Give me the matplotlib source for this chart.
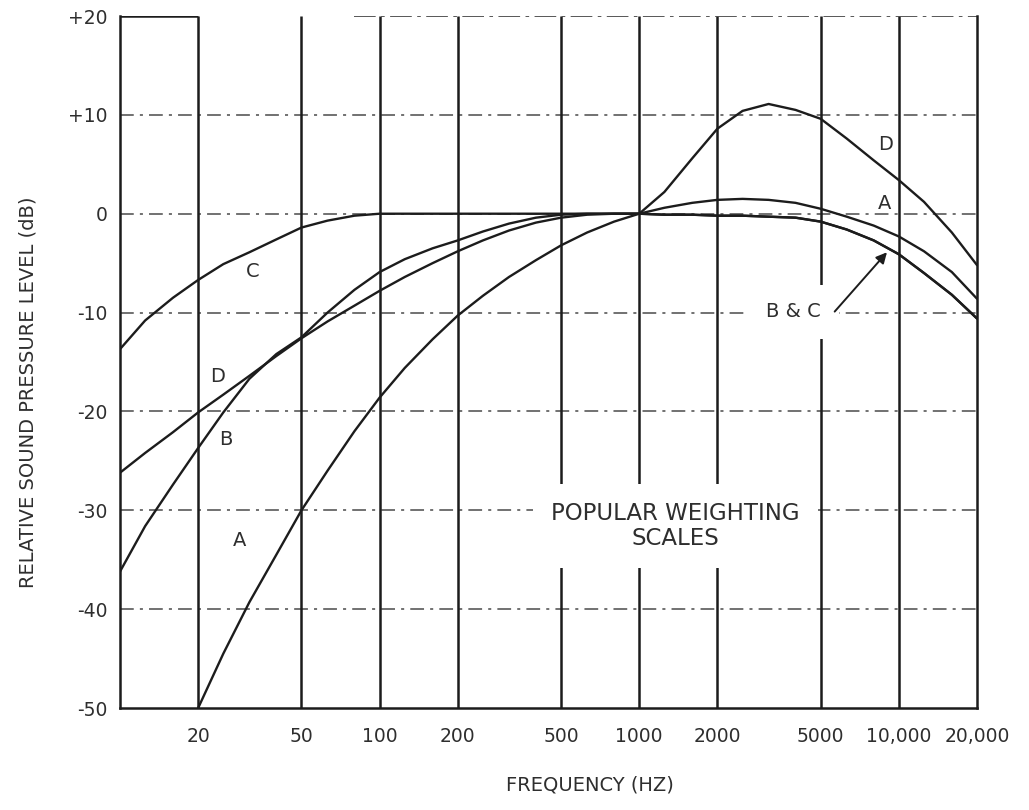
import matplotlib
matplotlib.use("Agg")
import matplotlib.pyplot as plt

# ---------------- data ----------------
freq = [10, 12.5, 16, 20, 25, 31.5, 40, 50, 63, 80, 100, 125, 160, 200, 250,
        315, 400, 500, 630, 800, 1000, 1250, 1600, 2000, 2500, 3150, 4000,
        5000, 6300, 8000, 10000, 12500, 16000, 20000]

freq_a = freq[3:]   # A curve starts at 20 Hz
a_db = [-50.0, -44.5, -39.3, -34.5, -30.0, -26.0, -22.0, -18.6, -15.6, -12.7,
        -10.3, -8.3, -6.4, -4.7, -3.2, -1.9, -0.8, 0.0, 0.6, 1.1, 1.4, 1.5,
        1.4, 1.1, 0.5, -0.3, -1.2, -2.3, -3.8, -5.9, -8.6]

b_db = [-36.2, -31.6, -27.4, -23.7, -20.1, -16.7, -14.2, -12.5, -10.0, -7.7,
        -5.9, -4.6, -3.5, -2.7, -1.8, -1.0, -0.4, -0.1, 0.0, 0.0, 0.0, -0.1,
        -0.1, -0.2, -0.2, -0.3, -0.4, -0.8, -1.6, -2.7, -4.1, -6.0, -8.2, -10.6]

c_db = [-13.7, -10.8, -8.5, -6.7, -5.1, -3.9, -2.6, -1.4, -0.7, -0.2, 0.0,
        0.0, 0.0, 0.0, 0.0, 0.0, 0.0, 0.0, 0.0, 0.0, 0.0, -0.1, -0.1, -0.2,
        -0.2, -0.3, -0.4, -0.8, -1.6, -2.7, -4.1, -6.0, -8.2, -10.6]

d_db = [-26.2, -24.2, -22.1, -20.1, -18.3, -16.4, -14.4, -12.6, -10.9, -9.3,
        -7.8, -6.4, -5.0, -3.8, -2.7, -1.7, -0.9, -0.4, -0.1, 0.0, 0.0, 2.2,
        5.6, 8.6, 10.4, 11.1, 10.5, 9.6, 7.6, 5.4, 3.4, 1.2, -1.9, -5.2]

x_ticks = [20, 50, 100, 200, 500, 1000, 2000, 5000, 10000, 20000]
x_tick_labels = ["20", "50", "100", "200", "500", "1000", "2000", "5000",
                 "10,000", "20,000"]
y_ticks = [20, 10, 0, -10, -20, -30, -40, -50]
y_tick_labels = ["+20", "+10", "0", "-10", "-20", "-30", "-40", "-50"]

# curve labels: (text, frequency, level)
curve_labels = [("C", 32.5, -5.8), ("D", 23.7, -16.5), ("B", 25.6, -22.8),
                ("A", 28.8, -33.1), ("D", 8900, 7.0), ("A", 8800, 1.0)]
bc_label = ("B & C", 3940, -9.9)
bc_arrow_tail = (5660, -9.9)
bc_arrow_head = (9000, -3.9)
box_text = ("POPULAR WEIGHTING\nSCALES", 1380, -31.6)

# ---------------- figure ----------------
ink = "#1c1c1c"
txt = "#2e2e2e"
grid_c = "#4a4a4a"

fig = plt.figure(figsize=(10.29, 8.10), dpi=100)
W, H = 1029, 810
ax = fig.add_axes([120 / W, 1 - 708 / H, 857 / W, 692 / H])
ax.set_xscale("log")
ax.set_xlim(freq[0], x_ticks[-1])
ax.set_ylim(y_ticks[-1], y_ticks[0])

# vertical solid grid lines
ax.vlines(x_ticks[:-1], y_ticks[-1], y_ticks[0], color=ink, lw=1.8, zorder=2)
# horizontal dash-dot grid lines
for yv in y_ticks[1:-1]:
    ax.axhline(yv, color=grid_c, lw=1.1, ls=(0, (9, 4, 2, 4)), zorder=1)
# top edge: solid piece at left, dashed remainder
ax.hlines(y_ticks[0], freq[0], x_ticks[0], color=ink, lw=1.8, zorder=2)
ax.hlines(y_ticks[0], 80, x_ticks[-1], color=grid_c, lw=1.3,
          ls=(0, (12, 3, 2, 3)), zorder=2)

for s in ("left", "right", "bottom"):
    ax.spines[s].set_color(ink)
    ax.spines[s].set_linewidth(1.8)
ax.spines["top"].set_visible(False)

# curves
for x, y in ((freq_a, a_db), (freq, b_db), (freq, c_db), (freq, d_db)):
    ax.plot(x, y, color=ink, lw=1.7, zorder=3, solid_capstyle="round")

# ticks
ax.set_xticks(x_ticks)
ax.set_xticklabels(x_tick_labels)
ax.xaxis.set_minor_locator(matplotlib.ticker.NullLocator())
ax.set_yticks(y_ticks)
ax.set_yticklabels(y_tick_labels)
ax.tick_params(axis="x", length=0, pad=14, labelsize=13.5, colors=txt)
ax.tick_params(axis="y", length=0, pad=9, labelsize=13.5, colors=txt)

# labels on curves
for t, fx, fy in curve_labels:
    ax.text(fx, fy, t, ha="center", va="center", fontsize=14, color=txt,
            zorder=5)

ax.text(bc_label[1], bc_label[2], bc_label[0], ha="center", va="center",
        fontsize=14, color=txt, zorder=4,
        bbox=dict(boxstyle="square,pad=0.9", fc="white", ec="none"))
ax.annotate("", xy=bc_arrow_head, xytext=bc_arrow_tail, zorder=6,
            arrowprops=dict(arrowstyle="-|>", color=ink, lw=1.4,
                            mutation_scale=16, shrinkA=0, shrinkB=0))

ax.text(box_text[1], box_text[2], box_text[0], ha="center", va="center",
        fontsize=16.5, color=txt, linespacing=1.1, zorder=4,
        bbox=dict(boxstyle="square,pad=0.8", fc="white", ec="none"))

# axis titles
fig.text(28 / W, 1 - 392 / H, "RELATIVE SOUND PRESSURE LEVEL (dB)",
         rotation=90, ha="center", va="center", fontsize=14, color=txt)
fig.text(590 / W, 1 - 785 / H, "FREQUENCY (HZ)", ha="center", va="center",
         fontsize=14, color=txt)

fig.savefig("out.png", dpi=100)
